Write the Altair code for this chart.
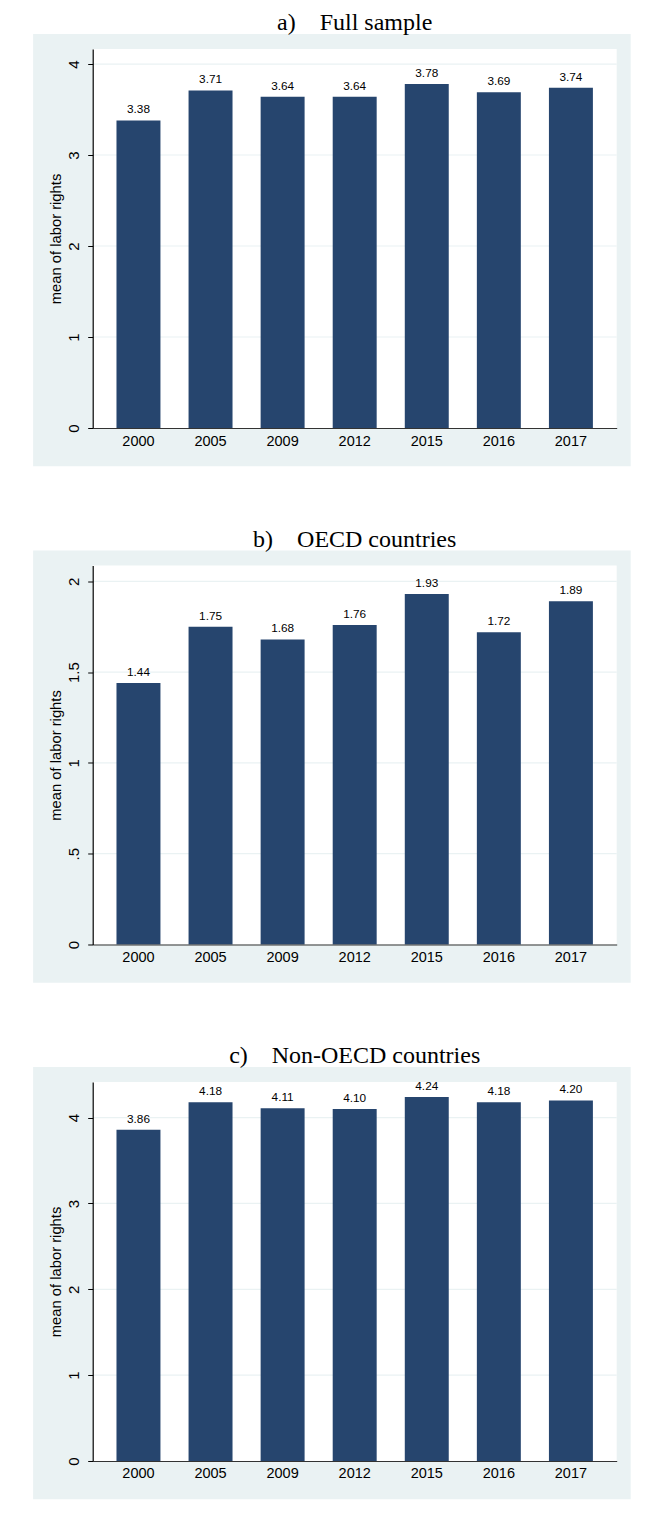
import altair as alt
import pandas as pd

years = ["2000", "2005", "2009", "2012", "2015", "2016", "2017"]
full_sample = [3.38, 3.71, 3.64, 3.64, 3.78, 3.69, 3.74]
oecd = [1.44, 1.75, 1.68, 1.76, 1.93, 1.72, 1.89]
non_oecd = [3.86, 4.18, 4.11, 4.10, 4.24, 4.18, 4.20]

NB = "\u00a0"
titles = [
    "a)" + NB * 4 + "Full sample",
    "b)" + NB * 4 + "OECD countries",
    "c)" + NB * 4 + "Non-OECD countries",
]
ticks_a = [0, 1, 2, 3, 4]
ticks_b = [0, 0.5, 1, 1.5, 2]
ticks_c = [0, 1, 2, 3, 4]
dom_a = [0, 4.165]
dom_b = [0, 2.087]
dom_c = [0, 4.415]

W, H = 524, 379
NAVY = "#26456E"
GRAY = "#EAF2F3"
SANS = "Liberation Sans"
SERIF = "Liberation Serif"


def panel(values, title, domain, ticks):
    df = pd.DataFrame({"year": years, "value": values})
    one = alt.Chart(pd.DataFrame({"k": [0]}))
    yscale = alt.Scale(domain=domain, nice=False, zero=True)
    yaxis = alt.Axis(
        title="mean of labor rights", values=ticks, grid=False,
        labelExpr="datum.value > 0 && datum.value < 1 ? slice(toString(datum.value), 1) : toString(datum.value)",
        labelAngle=270, labelAlign="center", labelBaseline="bottom",
        labelFont=SANS, labelFontSize=15, labelColor="black", labelPadding=6,
        tickSize=5, tickColor="black", domainColor="black", domainWidth=1.2,
        titleFont=SANS, titleFontSize=14.8, titleFontWeight="normal",
        titleColor="black", titlePadding=3, zindex=1,
    )
    bg = one.mark_rect(color=GRAY).encode(
        x=alt.value(-59.6), x2=alt.value(W + 14), y=alt.value(-15), y2=alt.value(H + 38.3)
    )
    white = one.mark_rect(color="white").encode(
        x=alt.value(0), x2=alt.value(W), y=alt.value(0), y2=alt.value(H)
    )
    grid = alt.Chart(pd.DataFrame({"t": ticks[1:]})).mark_rule(color=GRAY, strokeWidth=1.2).encode(
        y=alt.Y("t:Q", scale=yscale, axis=yaxis)
    )
    xenc = alt.X(
        "year:N",
        sort=years,
        scale=alt.Scale(paddingInner=0.39, paddingOuter=0.33),
        axis=alt.Axis(
            title=None, labelAngle=0, ticks=False, tickSize=0, labelPadding=6,
            labelFont=SANS, labelFontSize=14.5, labelColor="black",
            domainColor="#333333", domainWidth=1.2, zindex=1,
        ),
    )
    bars = alt.Chart(df).mark_bar(color=NAVY).encode(
        x=xenc, y=alt.Y("value:Q", scale=yscale, axis=yaxis)
    )
    labels = alt.Chart(df).mark_text(
        baseline="bottom", dy=-5, font=SANS, fontSize=11.8, color="black"
    ).encode(
        x=alt.X("year:N", sort=years),
        y=alt.Y("value:Q"),
        text=alt.Text("value:Q", format=".2f"),
    )
    return alt.layer(bg, white, grid, bars, labels).properties(
        width=W,
        height=H,
        title=alt.TitleParams(
            title, font=SERIF, fontSize=24, fontWeight="normal", color="black",
            anchor="middle", frame="group", offset=-1,
        ),
    )


chart = alt.vconcat(
    panel(full_sample, titles[0], dom_a, ticks_a),
    panel(oecd, titles[1], dom_b, ticks_b),
    panel(non_oecd, titles[2], dom_c, ticks_c),
    spacing=60.5,
).properties(
    padding={"left": 24.7, "top": 3, "right": 0, "bottom": 0},
    background="white",
).configure_view(stroke=None)

chart.save("out.html", embed_options={"renderer": "svg", "actions": False})
